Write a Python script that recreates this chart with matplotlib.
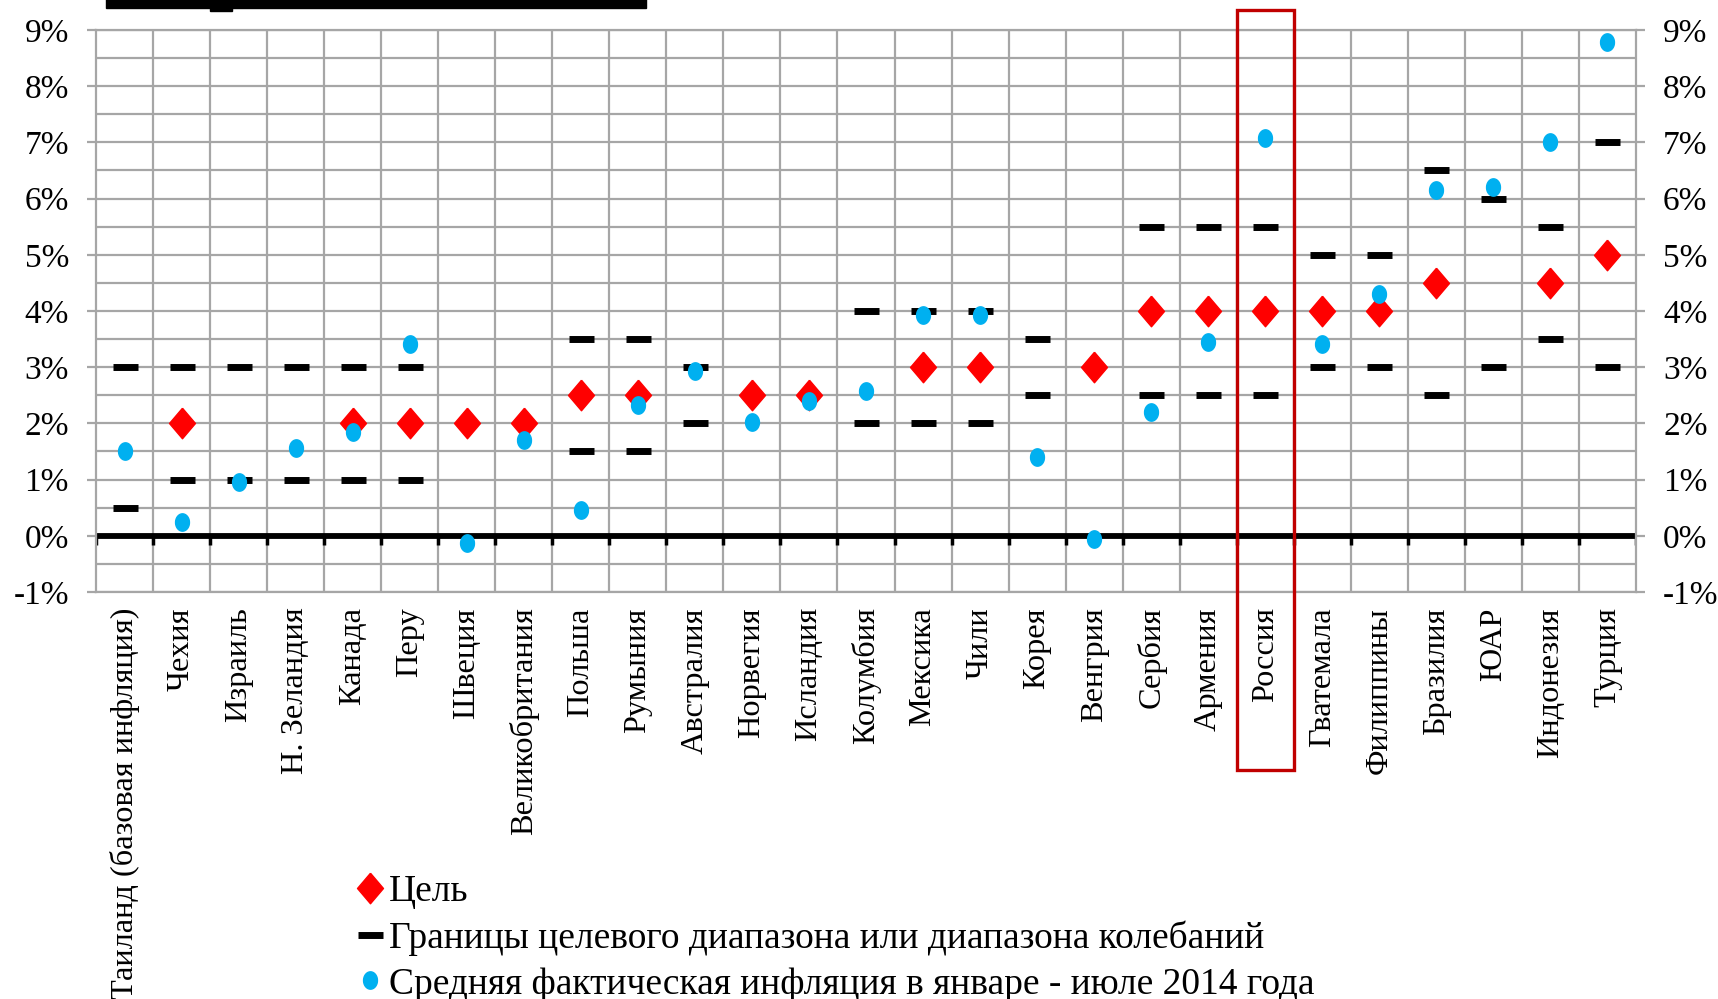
import numpy as np
import matplotlib
matplotlib.use('Agg')
import matplotlib.pyplot as plt
import matplotlib.transforms as mtransforms
from matplotlib.patches import Rectangle
from matplotlib.ticker import MultipleLocator

plt.rcParams['font.family'] = ['Liberation Serif', 'DejaVu Serif']

nan = np.nan
countries = ['Таиланд (базовая инфляция)', 'Чехия', 'Израиль', 'Н. Зеландия', 'Канада', 'Перу',
             'Швеция', 'Великобритания', 'Польша', 'Румыния', 'Австралия', 'Норвегия', 'Исландия',
             'Колумбия', 'Мексика', 'Чили', 'Корея', 'Венгрия', 'Сербия', 'Армения', 'Россия',
             'Гватемала', 'Филиппины', 'Бразилия', 'ЮАР', 'Индонезия', 'Турция']
target = [nan, 2, nan, nan, 2, 2, 2, 2, 2.5, 2.5, nan, 2.5, 2.5, nan, 3, 3, nan, 3,
          4, 4, 4, 4, 4, 4.5, nan, 4.5, 5]
upper = [3, 3, 3, 3, 3, 3, nan, nan, 3.5, 3.5, 3, nan, nan, 4, 4, 4, 3.5, nan,
         5.5, 5.5, 5.5, 5, 5, 6.5, 6, 5.5, 7]
lower = [0.5, 1, 1, 1, 1, 1, nan, nan, 1.5, 1.5, 2, nan, nan, 2, 2, 2, 2.5, nan,
         2.5, 2.5, 2.5, 3, 3, 2.5, 3, 3.5, 3]
actual = [1.5, 0.25, 0.95, 1.56, 1.85, 3.41, -0.13, 1.71, 0.46, 2.32, 2.94, 2.03, 2.4,
          2.57, 3.92, 3.92, 1.4, -0.05, 2.2, 3.45, 7.07, 3.41, 4.31, 6.16, 6.2, 7.01, 8.79]
yticks = [-1, 0, 1, 2, 3, 4, 5, 6, 7, 8, 9]
ytick_labels = [f'{v}%' for v in yticks]
labels = ['Цель', 'Границы целевого диапазона или диапазона колебаний',
          'Средняя фактическая инфляция в январе - июле 2014 года']
highlight = 'Россия'

W, H = 1718, 999
fig = plt.figure(figsize=(W / 100, H / 100), dpi=100)
ax = fig.add_axes([96 / W, 1 - 592 / H, (1636 - 96) / W, (592 - 30) / H])

x = np.arange(len(countries))
grey = '#A6A6A6'

# markers
diamond = [(0, 1), (0.85, 0), (0, -1), (-0.85, 0), (0, 1)]
t = np.linspace(0, 2 * np.pi, 40)
ellipse = list(zip(0.8 * np.cos(t), np.sin(t)))

h_dash, = ax.plot(x, upper, ls='none', marker='_', ms=18, mew=5, color='black', zorder=3)
ax.plot(x, lower, ls='none', marker='_', ms=18, mew=5, color='black', zorder=3)
h_target, = ax.plot(x, target, ls='none', marker=diamond, ms=22, color='#FF0000',
                    mec='#FF0000', zorder=4)
h_actual, = ax.plot(x, actual, ls='none', marker=ellipse, ms=12.5, color='#00B0F0',
                    mec='#00B0F0', zorder=5)

ax.set_xlim(-0.5, len(countries) - 0.5)
ax.set_ylim(yticks[0], yticks[-1])

# zero line with boundary ticks
ax.axhline(0, color='black', lw=4.2, zorder=2)
bounds = np.arange(len(countries) + 1) - 0.5
ax.vlines(bounds, -0.16, 0, color='black', lw=2.5, zorder=2)

# grid
ax.set_yticks(yticks)
ax.set_yticklabels(ytick_labels)
ax.yaxis.set_minor_locator(MultipleLocator(0.5))
ax.set_xticks(x)
ax.set_xticklabels(countries, rotation=90, va='top', ha='center')
ax.set_xticks(bounds[1:-1], minor=True)
ax.grid(axis='y', which='both', color=grey, lw=1.6, zorder=0)
ax.grid(axis='x', which='minor', color=grey, lw=1.6, zorder=0)
ax.set_axisbelow(True)

ax.tick_params(axis='y', which='major', direction='out', length=6.5, width=1.6, color=grey,
               labelsize=24, pad=13, left=True, right=True, labelleft=True, labelright=True)
ax.tick_params(axis='y', which='minor', length=0)
ax.tick_params(axis='x', which='both', length=0, labelsize=23.3, pad=11)
for s in ax.spines.values():
    s.set_color(grey)
    s.set_linewidth(1.6)

# highlight box around Россия
k = countries.index(highlight)
trans = mtransforms.blended_transform_factory(ax.transData, ax.transAxes)
ax.add_patch(Rectangle((k - 0.5, -0.317), 1, 1.353, transform=trans, fill=False,
                       edgecolor='#C00000', lw=2.4, clip_on=False, zorder=6))

# cut-off title bar at the very top
fig.add_artist(Rectangle((106 / W, 1 - 8 / H), (646 - 106) / W, 10 / H,
                         transform=fig.transFigure, color='black'))
fig.add_artist(Rectangle((210 / W, 1 - 11 / H), 22 / W, 6 / H,
                         transform=fig.transFigure, color='black'))

fig.legend([h_target, h_dash, h_actual], labels, loc='center left',
           bbox_to_anchor=(361 / W, 1 - 938 / H), frameon=False, fontsize=27,
           handlelength=0.5, handletextpad=0.25, labelspacing=0.3, borderpad=0,
           borderaxespad=0, numpoints=1)

fig.savefig('out.png', dpi=100)
